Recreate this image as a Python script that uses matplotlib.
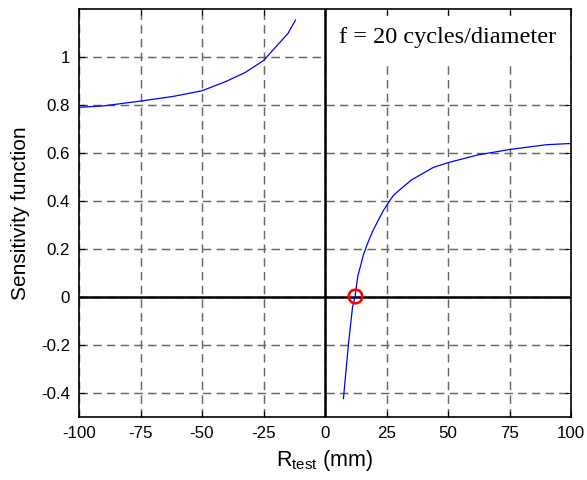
import matplotlib
matplotlib.use("Agg")
import matplotlib.pyplot as plt
from matplotlib.patches import Rectangle

# Data
left_x = [-100, -90, -75, -62, -50, -40, -32.5, -25, -20, -15, -12]
left_y = [0.791, 0.797, 0.817, 0.836, 0.86, 0.90, 0.936, 0.986, 1.043, 1.10, 1.155]

right_x = [7.5, 9.5, 11.2, 12.2, 13.3, 15.6, 17, 19.4, 23.7, 27.8, 35, 44, 50, 62, 75, 90, 100]
right_y = [-0.424, -0.2, -0.042, 0.0, 0.085, 0.175, 0.215, 0.275, 0.36, 0.424, 0.487, 0.54, 0.56, 0.592, 0.615, 0.635, 0.64]

zero_x = [12.2]
zero_y = [0.005]

x_ticks = [-100, -75, -50, -25, 0, 25, 50, 75, 100]
y_ticks = [-0.4, -0.2, 0, 0.2, 0.4, 0.6, 0.8, 1]
y_ticklabels = ["-0.4", "-0.2", "0", "0.2", "0.4", "0.6", "0.8", "1"]

plt.rcParams['font.family'] = ['Liberation Sans', 'DejaVu Sans']

fig = plt.figure(figsize=(5.87, 4.8), dpi=100)
ax = fig.add_axes([79/587, 1-416.7/480, (571-79)/587, (416.7-9.3)/480])

ax.set_xlim(-100, 100)
ax.set_ylim(-0.5, 1.2)
ax.set_xticks(x_ticks)
ax.set_xticklabels([str(v) for v in x_ticks])
ax.set_yticks(y_ticks)
ax.set_yticklabels(y_ticklabels)

ax.grid(True, color='#666666', linestyle=(0, (5.8, 3.6)), linewidth=1.05)
ax.set_axisbelow(True)

# white label box
ax.add_patch(Rectangle((0.5, 0.982), 99, 0.19, facecolor='white', edgecolor='none', zorder=1))

ax.axhline(0, color='black', linewidth=1.8, zorder=2)
ax.axvline(0, color='black', linewidth=1.8, zorder=2)

ax.plot(left_x, left_y, color='#0000ff', linewidth=0.9, zorder=3)
ax.plot(right_x, right_y, color='#0000ff', linewidth=0.9, zorder=3)
ax.plot(zero_x, zero_y, 'o', markersize=9.8, markerfacecolor='none',
        markeredgecolor='red', markeredgewidth=1.9, zorder=4)

ax.text(49.8, 1.058, "f = 20 cycles/diameter", ha='center', va='baseline',
        fontsize=17.5, family=['Liberation Serif', 'DejaVu Serif'], zorder=5)

ax.tick_params(direction='in', length=4, width=0.8, top=True, right=True,
               labelsize=12.2, pad=6.5)
for s in ax.spines.values():
    s.set_linewidth(1.2)

ax.set_xlabel(r"R$_{\mathregular{test}}$ (mm)", fontsize=15.5, labelpad=5)
ax.set_ylabel("Sensitivity function", fontsize=15, labelpad=8)

fig.savefig("out.png", dpi=100)
